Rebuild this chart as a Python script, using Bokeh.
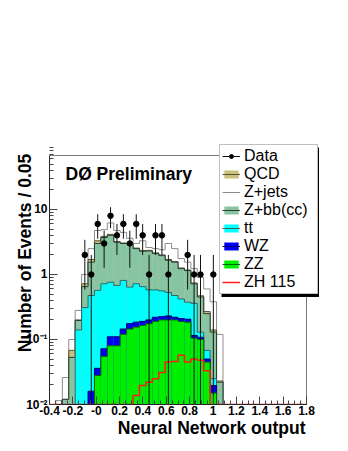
import numpy as np
from bokeh.plotting import figure
from bokeh.models import Range1d, FixedTicker, Legend, LegendItem, Label, BoxAnnotation, Title
from bokeh.embed import file_html
from bokeh.resources import INLINE

NB = 40
edges = np.linspace(-0.4, 1.8, NB + 1)


def full(vals):
    return np.array(list(vals) + [0.0] * (NB - len(vals)), dtype=float)


# top of each cumulative (stacked) layer, per bin
lvl_total = full([0, 0.0115, 0.026, 0.10, 0.28, 1.0, 2.5, 4.75, 4.9, 6.2, 4.75, 4.45, 3.6, 3.0,
                  3.3, 2.6, 2.5, 2.4, 3.0, 2.5, 1.76, 1.55, 1.23, 0.9, 0.6, 0.38, 0.12])
lvl_qcd = full([0, 0, 0.012, 0.068, 0.2, 0.72, 1.7, 3.3, 3.85, 4.15, 3.2, 3.05, 3.0, 2.55,
                2.33, 2.35, 2.15, 2.0, 1.7, 1.58, 1.26, 1.17, 0.74, 0.47, 0.27, 0.14, 0.023])
lvl_zbb = full([0, 0, 0.012, 0.053, 0.196, 0.65, 1.55, 3.0, 3.7, 4.0, 3.14, 3.0, 2.95, 2.5,
                2.28, 2.3, 2.1, 1.95, 1.66, 1.55, 1.23, 1.15, 0.72, 0.45, 0.25, 0.13, 0.022])
lvl_tt = full([0, 0, 0, 0, 0.14, 0.31, 0.475, 0.57, 0.72, 0.76, 0.68, 0.81, 0.64, 0.72,
               0.65, 0.58, 0.58, 0.56, 0.53, 0.475, 0.42, 0.375, 0.36, 0.13, 0.068, 0.025])
lvl_wz = full([0, 0, 0, 0, 0, 0, 0.016, 0.036, 0.072, 0.11, 0.11, 0.145, 0.175, 0.185,
               0.19, 0.2, 0.22, 0.225, 0.23, 0.22, 0.21, 0.205, 0.115, 0.108, 0.05, 0.0196])
lvl_zz = full([0, 0, 0, 0, 0, 0, 0, 0.028, 0.055, 0.08, 0.08, 0.12, 0.145, 0.155,
               0.165, 0.175, 0.19, 0.2, 0.2, 0.2, 0.19, 0.185, 0.105, 0.1, 0.045, 0.015])
zh115 = full([0] * 13 + [0.0137, 0.0196, 0.022, 0.025, 0.031, 0.045, 0.046, 0.057, 0.045,
                         0.05, 0.048, 0.033])
data_counts = full([0] * 5 + [2, 1, 6, 3, 8, 4, 6, 3, 6, 4, 1, 4, 4, 1, 0, 0, 2, 1, 1, 0, 1])

x_ticks = [-0.4, -0.2, 0.0, 0.2, 0.4, 0.6, 0.8, 1.0, 1.2, 1.4, 1.6, 1.8]
x_tick_labels = ["-0.4", "-0.2", "-0", "0.2", "0.4", "0.6", "0.8", "1", "1.2", "1.4", "1.6", "1.8"]
y_ticks = [0.01, 0.1, 1.0, 10.0]
y_tick_labels = ["10\u207b\u00b2", "10\u207b\u00b9", "1", "10"]

XMIN, XMAX = -0.4, 1.8
YMIN, YMAX = 0.01, 67.7
FLOOR = 1e-4
FONT = "Liberation Sans"

W, H = 348, 451
BL, BB, BT, BR = 49, 47, 101, 18          # borders; frame is larger than the drawn box
BOX_W, BOX_H = 257, 249                   # size of the axis box (XMIN..XMAX, YMIN..YMAX)
FW, FH = W - BL - BR, H - BB - BT
x_end = XMIN + (XMAX - XMIN) * FW / BOX_W
ly0, ly1 = np.log10(YMIN), np.log10(YMAX)
y_end = 10 ** (ly0 + (ly1 - ly0) * FH / BOX_H)

p = figure(width=W, height=H, x_range=Range1d(XMIN, x_end), y_range=Range1d(YMIN, y_end),
           y_axis_type="log", output_backend="svg", toolbar_location=None,
           min_border_left=BL, min_border_right=BR, min_border_top=BT, min_border_bottom=BB)
p.grid.visible = False
p.outline_line_color = None
p.background_fill_color = "white"
p.border_fill_color = "white"

# axis box (top and right sides)
p.line([XMIN, XMAX, XMAX], [YMAX, YMAX, YMIN], line_color="#7a7a7a", line_width=1)

left = edges[:-1]
right = edges[1:]


def step_path(vals):
    v = np.where(vals > 0, vals, FLOOR)
    xs = np.concatenate([[edges[0]], np.repeat(edges, 2)[1:-1], [edges[-1]]])
    ys = np.concatenate([[FLOOR], np.repeat(v, 2), [FLOOR]])
    return xs, ys


def layer(vals, fill, line):
    rq = None
    if fill is not None:
        top = np.where(vals > 0, vals, FLOOR)
        rq = p.quad(left=left, right=right, bottom=FLOOR, top=top,
                    fill_color=fill, line_color=None)
    xs, ys = step_path(vals)
    rl = p.line(xs, ys, line_color=line, line_width=1)
    return rq, rl


_, r_tot = layer(lvl_total, None, "#8c8c8c")
q_qcd, l_qcd = layer(lvl_qcd, "#c8c07c", "#5a5530")
q_zbb, l_zbb = layer(lvl_zbb, "#86c4a2", "#2c3c34")
q_tt, l_tt = layer(lvl_tt, "#00ffff", "#2b6b6b")
q_wz, l_wz = layer(lvl_wz, "#0000f0", "#000070")
q_zz, l_zz = layer(lvl_zz, "#00ee00", "#006600")

zx, zy = step_path(np.where(zh115 > 0, zh115, YMIN * 1.004))
r_zh = p.line(zx, zy, line_color="#ff1a1a", line_width=1.5)

centers = 0.5 * (left + right)
has = data_counts > 0
dc = data_counts[has]
err = np.sqrt(dc)
lo = np.maximum(dc - err, FLOOR)
hi = dc + err
r_err = p.segment(x0=centers[has], y0=lo, x1=centers[has], y1=hi, line_color="#111111", line_width=1)
r_pts = p.scatter(centers[has], dc, size=5.5, marker="circle", fill_color="black", line_color="black")

# axes
p.xaxis.ticker = FixedTicker(ticks=x_ticks, minor_ticks=list(np.round(np.arange(-0.4, 1.8001, 0.05), 3)))
p.xaxis.major_label_overrides = dict(zip(x_ticks, x_tick_labels))
p.yaxis.ticker = FixedTicker(ticks=y_ticks,
                             minor_ticks=[m * d for d in (0.01, 0.1, 1.0, 10.0) for m in range(2, 10)])
p.yaxis.major_label_overrides = dict(zip(y_ticks, y_tick_labels))
p.xaxis.bounds = (XMIN, XMAX)
p.yaxis.bounds = (YMIN, YMAX)
for ax in (p.xaxis[0], p.yaxis[0]):
    ax.major_tick_in = 8
    ax.major_tick_out = 0
    ax.minor_tick_in = 4
    ax.minor_tick_out = 0
    ax.axis_line_color = "#222222"
    ax.major_tick_line_color = "#444444"
    ax.minor_tick_line_color = "#444444"
    ax.major_label_text_font = FONT
    ax.major_label_text_font_style = "bold"
    ax.major_label_text_font_size = "12px"
    ax.major_label_text_color = "black"
p.xaxis.major_label_standoff = 1
p.yaxis.major_label_standoff = 2

# y title: centred on the frame, whose top is chosen so it ends at the box top
yax = p.yaxis[0]
yax.axis_label = "Number of Events / 0.05"
yax.axis_label_standoff = -12
yax.axis_label_text_font = FONT
yax.axis_label_text_font_style = "bold"
yax.axis_label_text_font_size = "17.5px"
yax.axis_label_text_color = "black"

# x title: right-aligned at the end of the axis box
p.add_layout(Title(text="Neural Network output", align="right", offset=FW - BOX_W + 1,
                   standoff=-3, text_font=FONT, text_font_style="bold",
                   text_font_size="17.5px", text_color="black"), "below")

# legend with a drop shadow
shadow = BoxAnnotation(left=221, right=318.5, top=147, bottom=296.5,
                       left_units="canvas", right_units="canvas", top_units="canvas",
                       bottom_units="canvas", fill_color="black", fill_alpha=1.0, line_color=None)
p.add_layout(shadow)
legend = Legend(items=[
    LegendItem(label="Data", renderers=[r_err, r_pts]),
    LegendItem(label="QCD", renderers=[q_qcd, l_qcd]),
    LegendItem(label="Z+jets", renderers=[r_tot]),
    LegendItem(label="Z+bb(cc)", renderers=[q_zbb, l_zbb]),
    LegendItem(label="tt", renderers=[q_tt, l_tt]),
    LegendItem(label="WZ", renderers=[q_wz, l_wz]),
    LegendItem(label="ZZ", renderers=[q_zz, l_zz]),
    LegendItem(label="ZH 115", renderers=[r_zh]),
], location=(170, 110), glyph_width=18, glyph_height=10, label_standoff=4, padding=2,
    spacing=0, margin=0, label_height=18, label_width=71,
    label_text_font=FONT, label_text_font_size="16px", label_text_color="black",
    border_line_color="#808080", border_line_width=1,
    background_fill_color="white", background_fill_alpha=1.0)
p.add_layout(legend)

p.add_layout(Label(x=-0.263, y=35.4, text="D\u00d8 Preliminary", text_font=FONT,
                   text_font_style="bold", text_font_size="17.5px", text_baseline="alphabetic",
                   text_color="black"))

open("out.html", "w").write(file_html(p, INLINE, title="NN output"))
